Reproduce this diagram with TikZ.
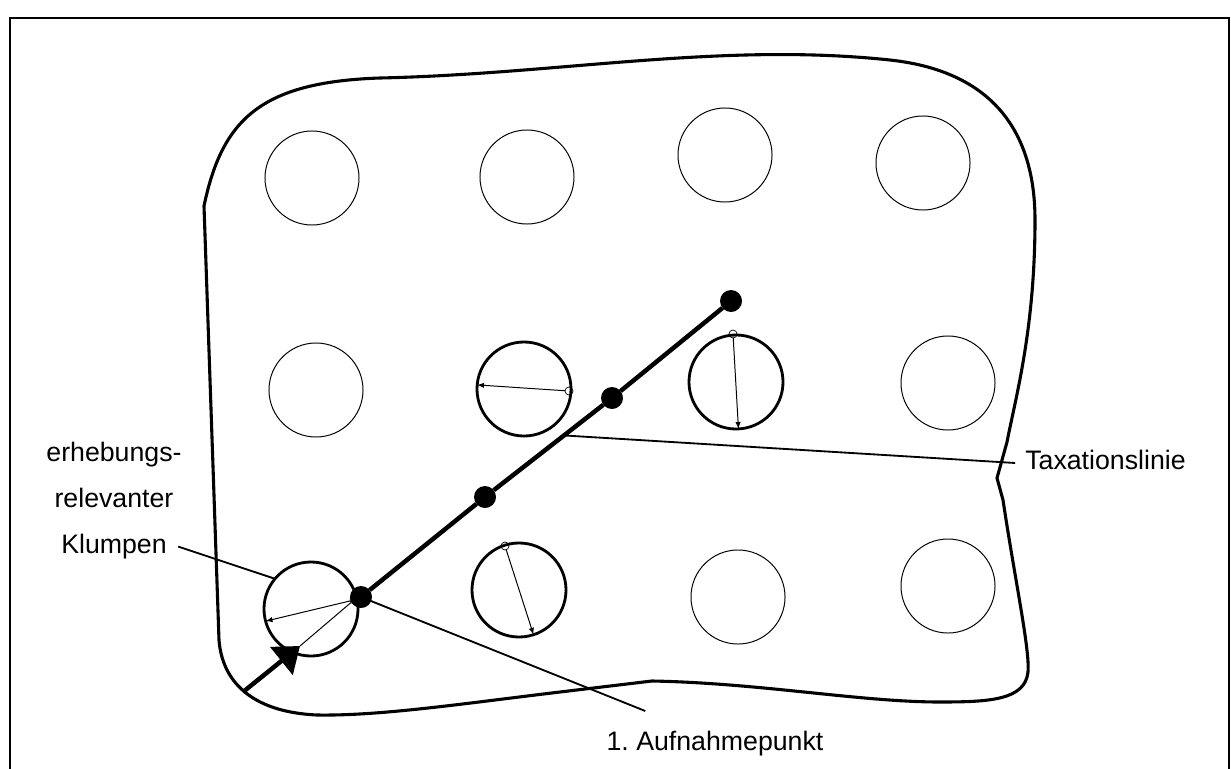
\documentclass[tikz,border=0pt]{standalone}
\usepackage{fontspec}
\setmainfont{Liberation Sans}
\usetikzlibrary{positioning,calc,arrows.meta}
\tikzset{>=latex,
  frame/.style={line width=1.4pt},
  border/.style={line width=2.2pt},
  clump/.style={circle,draw,line width=0.7pt,minimum size=2.35cm,inner sep=0pt,outer sep=0pt},
  selclump/.style={clump,line width=2pt},
  dot/.style={circle,fill,minimum size=0.55cm,inner sep=0pt,outer sep=0pt},
  ring/.style={circle,draw,line width=0.5pt,minimum size=0.2cm,inner sep=0pt,outer sep=0pt},
  radius/.style={line width=0.7pt},
  taxline/.style={line width=3.2pt},
  leader/.style={line width=1.3pt},
  lbl/.style={inner sep=0pt,font=\fontsize{19}{23}\selectfont,text height=13.7pt,text depth=4.2pt}}
\begin{document}
\begin{tikzpicture}[x=0.025cm,y=-0.025cm]
  \useasboundingbox (0,0) rectangle (1231,769);
  \draw [frame] (10,769) -- (10,18) -- (1229,18) -- (1229,769);
  % Bestandesgrenze
  \draw [border] (204,206) .. controls (222,120) and (260,82) .. (380,78)
    .. controls (560,74) and (720,42) .. (890,60)
    .. controls (1000,72) and (1035,140) .. (1035,220)
    .. controls (1035,330) and (1015,400) .. (1007,442)
    -- (997,478) -- (1003,500)
    .. controls (1015,580) and (1030,650) .. (1028,672)
    .. controls (1025,700) and (990,702) .. (940,702)
    .. controls (860,702) and (760,683) .. (652,681)
    -- (560,692)
    .. controls (460,704) and (380,716) .. (317,715)
    .. controls (250,712) and (222,680) .. (219,640) -- cycle;
  % Klumpen
  \node [clump] (k11) at (312,178) {};
  \node [clump] (k12) at (527,177) {};
  \node [clump] (k13) at (725,155) {};
  \node [clump] (k14) at (923,163) {};
  \node [clump] (k21) at (316,390) {};
  \node [selclump] (k22) at (524,389) {};
  \node [selclump] (k23) at (736,382) {};
  \node [clump] (k24) at (948,383) {};
  \node [selclump] (k31) at (311,609) {};
  \node [selclump] (k32) at (519,590) {};
  \node [clump] (k33) at (738,597) {};
  \node [clump] (k34) at (948,586) {};
  % Taxationslinie
  \coordinate (start) at (243,692);
  \coordinate (tip) at (300,646);
  \node [dot] (p1) at (361,597) {};
  \node [dot] (p2) at (485,497) {};
  \node [dot] (p3) at (612,398) {};
  \node [dot] (p4) at (731,301) {};
  \draw [taxline,-{Triangle[length=17pt,width=25pt]}] (start) -- (tip);
  \draw [taxline] (p1) -- (p2) -- (p3) -- (p4);
  % Startpunkte und Radien
  \node [ring] (r31) at (354,600) {};
  \node [ring] (r22) at (569,391) {};
  \node [ring] (r23) at (733,334) {};
  \node [ring] (r32) at (505,546) {};
  \draw [radius] (r31) -- (tip);
  \draw [radius,->] (r31) -- (k31.195);
  \draw [radius,->] (r22) -- (k22.175);
  \draw [radius,->] (r23) -- (k23.-87);
  \draw [radius,->] (r32) -- (k32.-72);
  % Beschriftung
  \node [lbl,anchor=base] (erh) at (114,461) {erhebungs-};
  \node [lbl,below=14.5pt of erh] (rel) {relevanter};
  \node [lbl,below=14.5pt of rel] (klump) {Klumpen};
  \node [lbl,anchor=west] (tax) at (1025,463) {Taxationslinie};
  \node [lbl,anchor=base] (aufn) at (715,750) {1.\ Aufnahmepunkt};
  \draw [leader] ([xshift=8pt]klump.east) -- (k31.140);
  \draw [leader] ($(p1)!0.546!(p4)$) -- ([xshift=-7pt]tax.west);
  \draw [leader] (p1.center) -- ([shift={(39,-39)}]aufn.base west);
\end{tikzpicture}
\end{document}
